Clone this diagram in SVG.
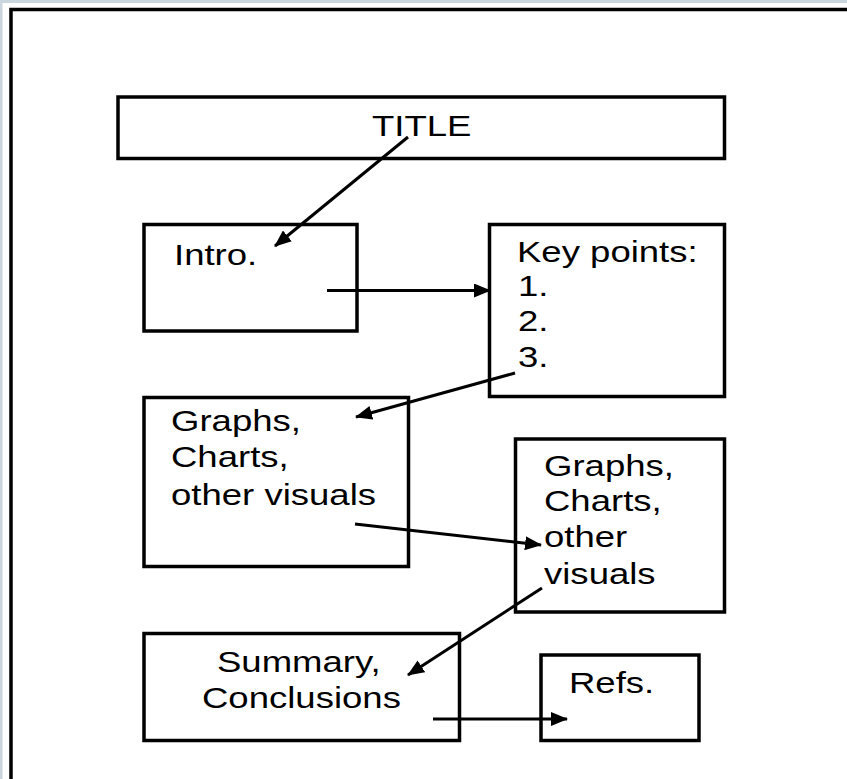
<svg xmlns="http://www.w3.org/2000/svg" width="847" height="779" viewBox="0 0 847 779">
<style>
.box{fill:none;stroke:#000;stroke-width:3.5}
.t{font-family:"Liberation Sans",Arial,sans-serif;font-size:29px;fill:#000}
.c{fill:none;stroke:#000;stroke-width:3}
</style>
<defs>
<marker id="ah" markerUnits="userSpaceOnUse" markerWidth="18" markerHeight="14" viewBox="0 0 18 14" refX="16" refY="7" orient="auto">
<path d="M0,0 L17,7 L0,14 Z" fill="#000"/>
</marker>
</defs>
<rect x="0" y="0" width="847" height="779" fill="#fff"/>
<rect x="0" y="0" width="847" height="3" fill="#c9d6dd"/>
<rect x="0" y="0" width="2.5" height="779" fill="#c9d6dd"/>
<path d="M11,779 V9.5 H847" fill="none" stroke="#000" stroke-width="3.5"/>

<g id="title">
<rect class="box" x="118" y="97" width="606.5" height="61.5"/>
<text class="t" transform="translate(372,136) scale(1.26,1)">TITLE</text>
</g>
<g id="intro">
<rect class="box" x="144" y="224.5" width="213" height="106.5"/>
<text class="t" transform="translate(174,265) scale(1.26,1)">Intro.</text>
</g>
<g id="keypoints">
<rect class="box" x="489.5" y="224.5" width="235" height="172"/>
<text class="t" transform="translate(517,262) scale(1.26,1)">Key points:</text>
<text class="t" transform="translate(518,296) scale(1.26,1)">1.</text>
<text class="t" transform="translate(518,331) scale(1.26,1)">2.</text>
<text class="t" transform="translate(518,367) scale(1.26,1)">3.</text>
</g>
<g id="graphs1">
<rect class="box" x="144" y="397.5" width="264.5" height="169"/>
<text class="t" transform="translate(171,431) scale(1.26,1)">Graphs,</text>
<text class="t" transform="translate(171,467) scale(1.26,1)">Charts,</text>
<text class="t" transform="translate(171,505) scale(1.26,1)">other visuals</text>
</g>
<g id="graphs2">
<rect class="box" x="515.5" y="439" width="209" height="173"/>
<text class="t" transform="translate(544,476) scale(1.26,1)">Graphs,</text>
<text class="t" transform="translate(544,511) scale(1.26,1)">Charts,</text>
<text class="t" transform="translate(544,547) scale(1.26,1)">other</text>
<text class="t" transform="translate(544,584) scale(1.26,1)">visuals</text>
</g>
<g id="summary">
<rect class="box" x="144" y="633.5" width="315.5" height="107"/>
<text class="t" transform="translate(217,672) scale(1.26,1)">Summary,</text>
<text class="t" transform="translate(202,708) scale(1.26,1)">Conclusions</text>
</g>
<g id="refs">
<rect class="box" x="541" y="655" width="158" height="85.5"/>
<text class="t" transform="translate(569,693) scale(1.26,1)">Refs.</text>
</g>

<g id="connectors">
<path class="c" d="M408,137 L275,246" marker-end="url(#ah)"/>
<path class="c" d="M327,290.5 L490,290.5" marker-end="url(#ah)"/>
<path class="c" d="M515,373 L356,417" marker-end="url(#ah)"/>
<path class="c" d="M355,524 L541,545" marker-end="url(#ah)"/>
<path class="c" d="M542,588 L408,675" marker-end="url(#ah)"/>
<path class="c" d="M433,719 L567,719" marker-end="url(#ah)"/>
</g>
</svg>
